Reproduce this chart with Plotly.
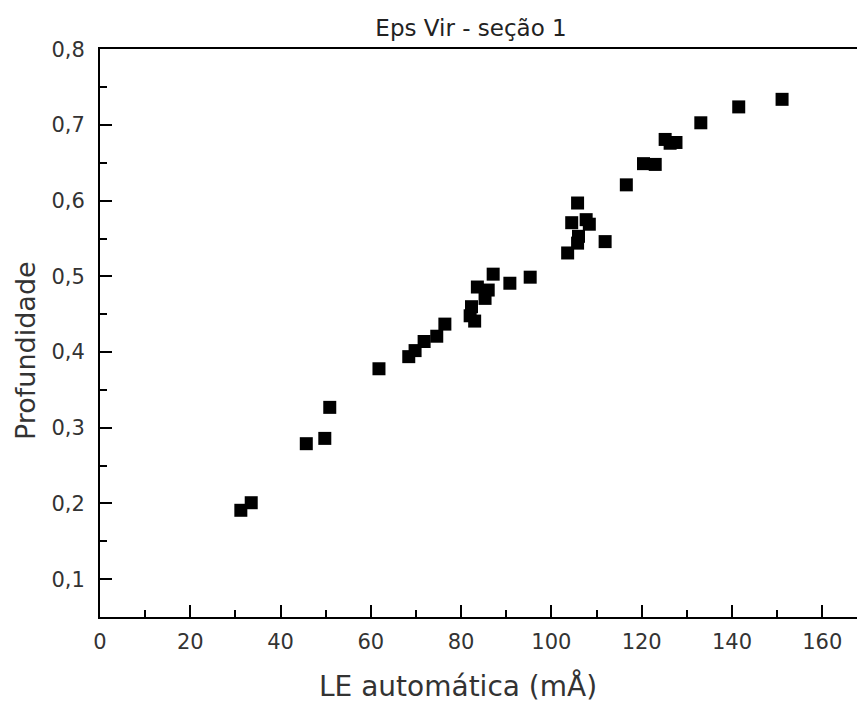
import plotly.graph_objects as go

# Data
le_automatica = [31.2, 33.5, 45.7, 49.8, 50.9, 61.8, 68.4, 69.8, 71.8, 74.6, 76.4,
                 82.0, 83.0, 82.3, 83.6, 86.0, 85.3, 87.1, 90.8, 95.3,
                 103.6, 105.8, 106.0, 104.5, 105.8, 107.7, 108.4, 111.9,
                 116.6, 120.4, 123.0, 125.2, 126.3, 127.6, 133.1, 141.5, 151.1]
profundidade = [0.191, 0.201, 0.279, 0.286, 0.327, 0.378, 0.394, 0.402, 0.414, 0.421, 0.437,
                0.448, 0.441, 0.460, 0.486, 0.482, 0.471, 0.503, 0.491, 0.499,
                0.531, 0.544, 0.553, 0.571, 0.597, 0.575, 0.569, 0.546,
                0.621, 0.649, 0.648, 0.681, 0.676, 0.677, 0.703, 0.724, 0.734]

title_text = "Eps Vir - seção 1"
x_title = "LE automática (mÅ)"
y_title = "Profundidade"

FONT = "DejaVu Sans"
TXT = "#333333"

fig = go.Figure()
fig.add_trace(go.Scatter(
    x=le_automatica, y=profundidade, mode="markers",
    marker=dict(symbol="square", size=13, color="black", line=dict(width=0)),
    showlegend=False, hoverinfo="skip"))

fig.update_layout(
    width=857, height=702,
    margin=dict(l=100, r=0, t=49, b=85),
    paper_bgcolor="white", plot_bgcolor="white",
    separators=",.",
    font=dict(family=FONT, color=TXT),
    title=dict(text=title_text, x=471/857, xref="container", xanchor="center",
               y=1-28/702, yref="container", yanchor="middle",
               font=dict(size=23, family=FONT, color="#222")),
    annotations=[
        dict(text=x_title, xref="paper", yref="paper", x=(458-100)/757, y=(617-686)/568,
             xanchor="center", yanchor="middle", showarrow=False,
             font=dict(size=28, family=FONT, color=TXT)),
        dict(text=y_title, xref="paper", yref="paper", x=(25-100)/757, y=(617-351)/568,
             xanchor="center", yanchor="middle", showarrow=False, textangle=-90,
             font=dict(size=27, family=FONT, color=TXT)),
    ],
)

fig.update_xaxes(
    range=[0, 167.7], showgrid=False, zeroline=False,
    showline=True, linecolor="black", linewidth=2, mirror=True,
    ticks="inside", ticklen=12, tickwidth=2, tickcolor="black",
    tick0=0, dtick=20, tickfont=dict(size=21, family=FONT, color=TXT),
    ticklabelstandoff=5,
    minor=dict(ticks="inside", ticklen=7, tickwidth=2, tickcolor="black", dtick=10, showgrid=False),
)
fig.update_yaxes(
    range=[0.05, 0.8005], showgrid=False, zeroline=False,
    showline=True, linecolor="black", linewidth=2, mirror=False,
    ticks="inside", ticklen=12, tickwidth=2, tickcolor="black",
    tick0=0, dtick=0.1, tickformat=".1f", tickfont=dict(size=21, family=FONT, color=TXT),
    ticklabelstandoff=9,
    minor=dict(ticks="inside", ticklen=7, tickwidth=2, tickcolor="black", dtick=0.05, showgrid=False),
)

fig.write_html("out.html")
